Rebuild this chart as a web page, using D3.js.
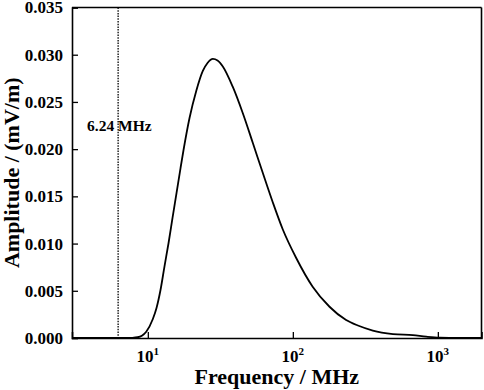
<!DOCTYPE html>
<html>
<head>
<meta charset="utf-8">
<script src="https://cdn.jsdelivr.net/npm/d3@7"></script>
<style>
  body { margin: 0; background: #fff; }
  text { font-family: "Liberation Serif", "Times New Roman", serif; font-weight: bold; }
</style>
</head>
<body>
<div id="chart"></div>
<script>
const freq = [3, 5, 7, 7.8, 8.5, 9.1, 9.75, 10.83, 11.48, 12.23, 13.04, 13.9, 14.8, 15.78, 16.81, 17.63, 19.39,
              21.57, 23.95, 25.8, 28.1, 30.25, 32.9, 38.5, 45.2, 53.0, 62.1, 72.8, 85.3, 105.5, 137, 179, 233,
              281, 356, 490, 673, 832, 1028, 1400, 2000];
const amp = [0, 0, 0, 0.00002, 0.00008, 0.00025, 0.00067, 0.00201, 0.00318, 0.00508, 0.00762, 0.01006, 0.01271,
             0.01536, 0.0180, 0.01991, 0.0233, 0.02616, 0.02828, 0.02912, 0.02955, 0.02939, 0.02875, 0.02661,
             0.0238, 0.02065, 0.01747, 0.01435, 0.01149, 0.00847, 0.00543, 0.00331, 0.0019, 0.00132, 0.00079,
             0.00042, 0.0003, 0.00014, 0.00004, 0.00002, 0.00002];
const yTicks = [0, 0.005, 0.010, 0.015, 0.020, 0.025, 0.030, 0.035];
const xTicks = [10, 100, 1000];
const xTickExp = ["1", "2", "3"];
const markerFreq = 6.24;
const markerLabel = "6.24 MHz";

const margin = { top: 7.5, right: 2.5, bottom: 52, left: 72 },
      width = 484 - margin.left - margin.right,
      height = 390 - margin.top - margin.bottom;

const svg = d3.select("#chart")
  .append("svg")
  .attr("width", 484)
  .attr("height", 390)
  .append("g")
  .attr("transform", `translate(${margin.left},${margin.top})`);

const x = d3.scaleLog()
  .domain([3, 2000])
  .range([0, width]);

const y = d3.scaleLinear()
  .domain([0, 0.035])
  .range([height, 0]);

// y axis, ticks inward
const yAxis = svg.append("g")
  .call(d3.axisLeft(y).tickValues(yTicks).tickFormat(d3.format(".3f")).tickSize(-6).tickPadding(9));
yAxis.selectAll("text").style("font-size", "17px").attr("fill", "#000");

// x axis, ticks inward, labels drawn by hand for the superscripts
const xAxis = svg.append("g")
  .attr("transform", `translate(0,${height})`)
  .call(d3.axisBottom(x).tickValues(xTicks).tickFormat("").tickSize(-6));

[yAxis, xAxis].forEach(a => {
  a.select(".domain").attr("stroke", "#000").attr("stroke-width", 1.6);
  a.selectAll(".tick line").attr("stroke", "#000").attr("stroke-width", 1.3);
});

const xl = svg.append("g").selectAll("text")
  .data(xTicks)
  .enter()
  .append("text")
  .attr("x", d => x(d))
  .attr("y", height + 23.5)
  .attr("text-anchor", "middle")
  .style("font-size", "17px");
xl.append("tspan").text("10");
xl.append("tspan")
  .attr("dy", -7)
  .style("font-size", "11px")
  .text((d, i) => xTickExp[i]);

// top and right frame
svg.append("line")
  .attr("x1", 0).attr("x2", width).attr("y1", 0).attr("y2", 0)
  .attr("stroke", "#000").attr("stroke-width", 1.6);
svg.append("line")
  .attr("x1", width).attr("x2", width).attr("y1", 0).attr("y2", height)
  .attr("stroke", "#000").attr("stroke-width", 1.6);

// dotted marker
svg.append("line")
  .attr("x1", x(markerFreq)).attr("x2", x(markerFreq))
  .attr("y1", 0).attr("y2", height)
  .attr("stroke", "#000")
  .attr("stroke-width", 1.3)
  .attr("stroke-dasharray", "1.5,1.2");

svg.append("text")
  .attr("x", 15)
  .attr("y", 123.5)
  .style("font-size", "15.5px")
  .text(markerLabel);

const line = d3.line()
  .x((d, i) => x(d))
  .y((d, i) => y(amp[i]))
  .curve(d3.curveMonotoneX);

svg.append("path")
  .attr("fill", "none")
  .attr("stroke", "#000")
  .attr("stroke-width", 1.8)
  .attr("d", line(freq));

svg.append("text")
  .attr("x", width / 2)
  .attr("y", height + 46)
  .attr("text-anchor", "middle")
  .style("font-size", "22px")
  .text("Frequency / MHz");

svg.append("text")
  .attr("transform", "rotate(-90)")
  .attr("x", -height / 2)
  .attr("y", -53.5)
  .attr("text-anchor", "middle")
  .style("font-size", "22px")
  .text("Amplitude / (mV/m)");
</script>
</body>
</html>
